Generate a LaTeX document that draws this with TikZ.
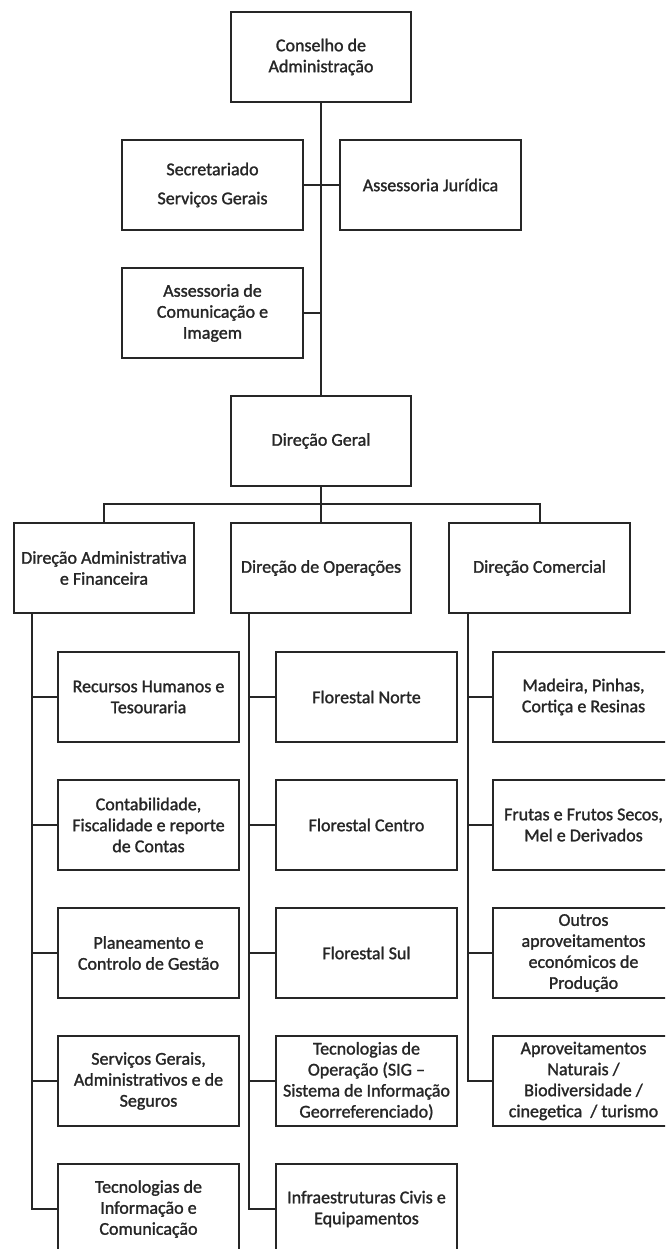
\documentclass[tikz,border=0pt]{standalone}
\usepackage{fontspec}
\setmainfont{Carlito}
\newfontfamily\boxfont{Carlito}[FakeBold=1.4]
\usepackage{xcolor}
\definecolor{ink}{HTML}{262626}

\begin{document}
\begin{tikzpicture}[
    x=0.75pt, y=-0.75pt,
    unit/.style  = {rectangle, draw=ink, line width=1.5pt, fill=white,
                    minimum width=135.5pt, minimum height=68pt, inner sep=1pt,
                    align=center, text=ink,
                    font=\boxfont\fontsize{13.5}{15.75}\selectfont},
    link/.style  = {draw=ink, line width=1.5pt},
]
\useasboundingbox (0,0) rectangle (665,1249);
\clip (0,0) rectangle (665,1249);

% =============================== Top: board and advisors ======================
\node[unit] (cons) at (321, 57)    {Conselho de\\Administração};
\node[unit] (secr) at (212.5, 185) {Secretariado\\[6pt]Serviços Gerais};
\node[unit] (jur)  at (430.5, 185) {Assessoria Jurídica};
\node[unit] (comm) at (212.5, 313) {Assessoria de\\Comunicação e\\Imagem};
\node[unit] (ger)  at (321, 441)   {Direção Geral};

\draw[link] (cons.south) -- (ger.north);
\draw[link] (secr.east) -- (jur.west);
\draw[link] (comm.east) -- (comm.east -| ger.north);

% =============================== Directorates =================================
\node[unit] (dfin) at (104, 568)   {Direção Administrativa\\e Financeira};
\node[unit] (dop)  at (321, 568)   {Direção de Operações};
\node[unit] (dcom) at (539.5, 568) {Direção Comercial};

\draw[link] (ger.south) -- (dop.north);
\draw[link] (dfin.north) -- ++(0,-18) -| (dcom.north);

% =============================== Units per directorate ========================
\foreach \i/\txt in {1/{Recursos Humanos e\\Tesouraria},
                     2/{Contabilidade,\\Fiscalidade e reporte\\de Contas},
                     3/{Planeamento e\\Controlo de Gestão},
                     4/{Serviços Gerais,\\Administrativos e de\\Seguros},
                     5/{Tecnologias de\\Informação e\\Comunicação}} {
    \node[unit] (fin\i) at (148.5, 569+128*\i) {\txt};
}
\foreach \i/\txt in {1/{Florestal Norte},
                     2/{Florestal Centro},
                     3/{Florestal Sul},
                     4/{Tecnologias de\\Operação (SIG –\\Sistema de Informação\\Georreferenciado)},
                     5/{Infraestruturas Civis e\\Equipamentos}} {
    \node[unit] (op\i) at (366.5, 569+128*\i) {\txt};
}
\foreach \i/\txt in {1/{Madeira, Pinhas,\\Cortiça e Resinas},
                     2/{Frutas e Frutos Secos,\\Mel e Derivados},
                     3/{Outros\\aproveitamentos\\económicos de\\Produção},
                     4/{Aproveitamentos\\Naturais /\\Biodiversidade /\\cinegetica \ / turismo}} {
    \node[unit] (com\i) at (583.5, 569+128*\i) {\txt};
}

% spines hanging below each directorate
\coordinate (sfin) at (dfin.south -| 32,0);
\coordinate (sop)  at (dop.south -| 249,0);
\coordinate (scom) at (dcom.south -| 468,0);

\draw[link] (sfin) |- (fin5.west);
\foreach \i in {1,...,4} \draw[link] (sfin |- fin\i.west) -- (fin\i.west);
\draw[link] (sop) |- (op5.west);
\foreach \i in {1,...,4} \draw[link] (sop |- op\i.west) -- (op\i.west);
\draw[link] (scom) |- (com4.west);
\foreach \i in {1,...,3} \draw[link] (scom |- com\i.west) -- (com\i.west);

\end{tikzpicture}
\end{document}
